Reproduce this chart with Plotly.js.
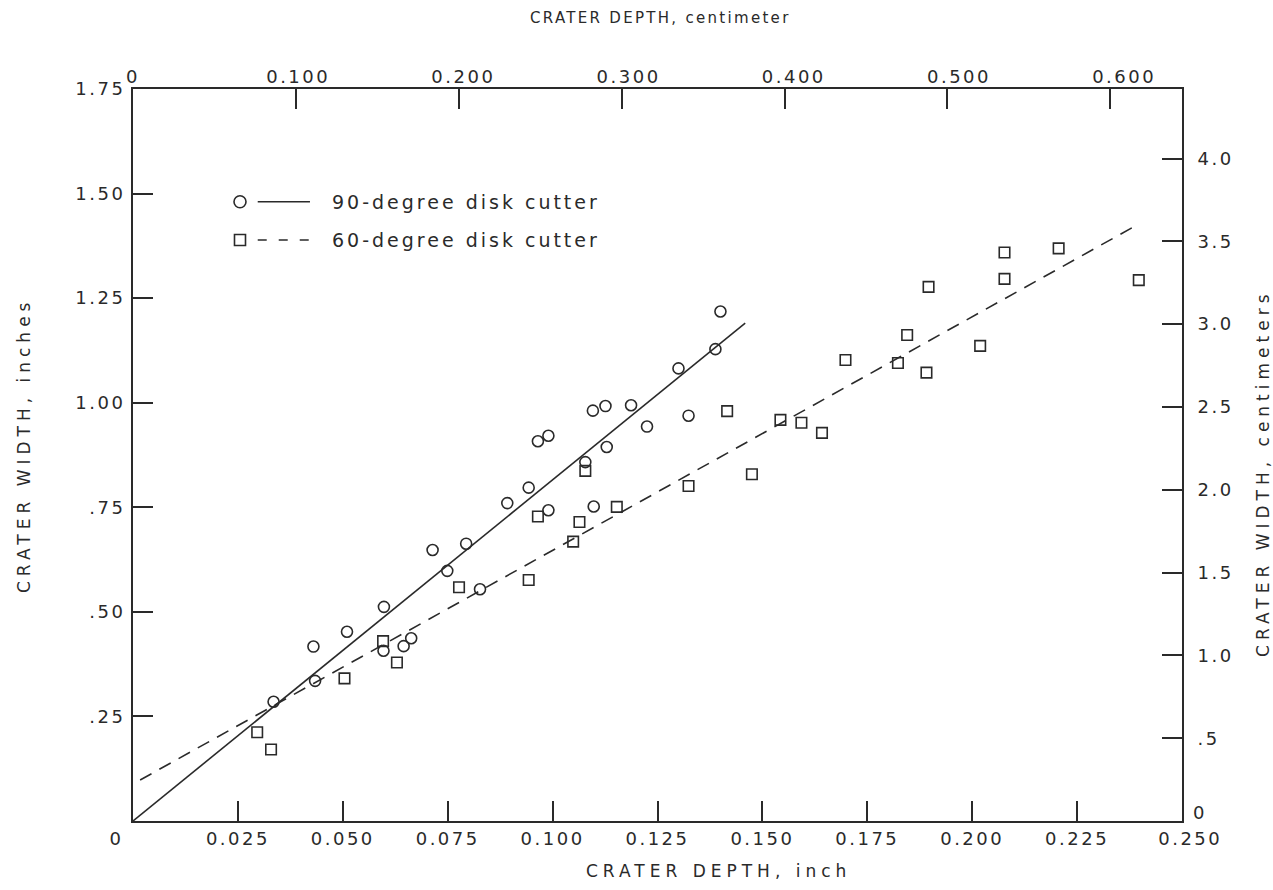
<!DOCTYPE html>
<html>
<head>
<meta charset="utf-8">
<script src="https://cdn.plot.ly/plotly-3.0.1.min.js"></script>
<style>
  html, body { margin: 0; padding: 0; background: #ffffff; }
  #chart { width: 1273px; height: 890px; }
</style>
</head>
<body>
<div id="chart"></div>
<script>
// ---- data (inches) ----
var depth90 = [0.0335, 0.0430, 0.0434, 0.0510, 0.0598, 0.0597, 0.0645, 0.0663, 0.0714, 0.0749,
               0.0794, 0.0827, 0.0892, 0.0943, 0.0965, 0.0990, 0.0990, 0.1078, 0.1096, 0.1098,
               0.1126, 0.1129, 0.1187, 0.1225, 0.1300, 0.1324, 0.1388, 0.1400];
var width90 = [0.285, 0.417, 0.335, 0.4525, 0.512, 0.407, 0.418, 0.437, 0.648, 0.598,
               0.663, 0.554, 0.760, 0.797, 0.908, 0.921, 0.743, 0.858, 0.981, 0.752,
               0.992, 0.894, 0.994, 0.943, 1.082, 0.969, 1.128, 1.218];

var depth60 = [0.0296, 0.0329, 0.0504, 0.0596, 0.0629, 0.0777, 0.0943, 0.0965, 0.1049, 0.1064,
               0.1078, 0.1153, 0.1324, 0.1416, 0.1475, 0.1543, 0.1593, 0.1642, 0.1698, 0.1823,
               0.1845, 0.1891, 0.1896, 0.2019, 0.2077, 0.2077, 0.2206, 0.2397];
var width60 = [0.212, 0.171, 0.341, 0.430, 0.379, 0.559, 0.576, 0.728, 0.668, 0.715,
               0.837, 0.751, 0.801, 0.980, 0.829, 0.959, 0.952, 0.928, 1.102, 1.095,
               1.162, 1.072, 1.277, 1.136, 1.359, 1.296, 1.369, 1.293];

// fitted lines (end points)
var fit90X = [0, 0.1459];
var fit90Y = [0, 1.190];
var fit60X = [0.0017, 0.2393];
var fit60Y = [0.098, 1.425];

// ---- tick values / labels ----
var xInchTicks = [0, 0.025, 0.05, 0.075, 0.1, 0.125, 0.15, 0.175, 0.2, 0.225, 0.25];
var xInchLabels = ['0\u00a0\u00a0\u00a0\u00a0', '0.025', '0.050', '0.075', '0.100', '0.125', '0.150', '0.175', '0.200', '0.225', '\u00a0\u00a00.250'];
var xCmTicks = [0, 0.1, 0.2, 0.3, 0.4, 0.5, 0.6];
var xCmLabels = ['0', '0.100', '0.200', '0.300', '0.400', '0.500', '0.600'];
var xCmTickMarks = [0.1, 0.2, 0.3, 0.4, 0.5, 0.6];
var yInchTicks = [0, 0.25, 0.5, 0.75, 1.0, 1.25, 1.5, 1.75];
var yInchLabels = ['', '.25', '.50', '.75', '1.00', '1.25', '1.50', '1.75'];
var yCmTicks = [0.5, 1.0, 1.5, 2.0, 2.5, 3.0, 3.5, 4.0];
var yCmLabels = ['.5', '1.0', '1.5', '2.0', '2.5', '3.0', '3.5', '4.0'];
var yCmZeroTick = [0];
var yCmZeroLabel = ['0'];

var legendNames = ['90-degree disk cutter', '60-degree disk cutter'];
var titles = {
  bottom: 'CRATER DEPTH, inch',
  top: 'CRATER DEPTH, centimeter',
  left: 'CRATER WIDTH, inches',
  right: 'CRATER WIDTH, centimeters'
};

// ---- styling helpers ----
var INK = '#2a2a2a';
var FONT = 'DejaVu Sans, Liberation Sans, sans-serif';
function sp(t, ls) { return '<span style="letter-spacing:' + ls + 'px">' + t + '</span>'; }
function spAll(arr, ls) { return arr.map(function (t) { return t === '' ? '' : sp(t, ls); }); }

var traces = [
  {
    x: depth90, y: width90, type: 'scatter', mode: 'markers', name: legendNames[0],
    marker: { symbol: 'circle-open', size: 11, color: INK, line: { width: 1.6, color: INK } },
    showlegend: false, hoverinfo: 'x+y'
  },
  {
    x: depth60, y: width60, type: 'scatter', mode: 'markers', name: legendNames[1],
    marker: { symbol: 'square-open', size: 10.5, color: INK, line: { width: 1.6, color: INK } },
    showlegend: false, hoverinfo: 'x+y'
  },
  {
    x: fit90X, y: fit90Y, type: 'scatter', mode: 'lines', name: legendNames[0] + ' fit',
    line: { color: INK, width: 1.6 }, showlegend: false, hoverinfo: 'skip'
  },
  {
    x: fit60X, y: fit60Y, type: 'scatter', mode: 'lines', name: legendNames[1] + ' fit',
    line: { color: INK, width: 1.6, dash: '13px,9px' }, showlegend: false, hoverinfo: 'skip'
  },
  // empty traces so the secondary (centimeter) axes are registered
  { x: [], y: [], xaxis: 'x2', yaxis: 'y2', type: 'scatter', mode: 'markers', showlegend: false, hoverinfo: 'skip' },
  { x: [], y: [], xaxis: 'x3', yaxis: 'y3', type: 'scatter', mode: 'markers', showlegend: false, hoverinfo: 'skip' }
];

var tickFont = { family: FONT, size: 18, color: INK };
var axisCommon = {
  showgrid: false, zeroline: false, showline: true, linecolor: INK, linewidth: 2,
  ticks: 'inside', ticklen: 20, tickwidth: 2, tickcolor: INK, tickfont: tickFont,
  tickmode: 'array', fixedrange: true
};

var layout = {
  width: 1273, height: 890, autosize: false,
  paper_bgcolor: '#ffffff', plot_bgcolor: '#ffffff',
  margin: { l: 133, r: 91, t: 89, b: 69, pad: 0 },
  showlegend: false,
  xaxis: Object.assign({}, axisCommon, {
    range: [0, 0.25], tickvals: xInchTicks, ticktext: spAll(xInchLabels, 2.5),
    anchor: 'y', side: 'bottom', ticklabelstandoff: 0
  }),
  // top centimeter labels (no tick marks)
  xaxis2: Object.assign({}, axisCommon, {
    range: [0, 0.635], tickvals: xCmTicks, ticktext: spAll(xCmLabels, 2.5),
    overlaying: 'x', side: 'top', anchor: 'y', ticks: '', showline: false, ticklabelstandoff: 1
  }),
  // top tick marks and frame line as drawn on the original
  xaxis3: Object.assign({}, axisCommon, {
    range: [0, 0.644], tickvals: xCmTickMarks, showticklabels: false,
    overlaying: 'x', side: 'top', anchor: 'y'
  }),
  yaxis: Object.assign({}, axisCommon, {
    range: [0, 1.75], tickvals: yInchTicks, ticktext: spAll(yInchLabels, 2.5),
    anchor: 'x', side: 'left', ticklabelstandoff: 2
  }),
  yaxis2: Object.assign({}, axisCommon, {
    range: [0, 4.42], tickvals: yCmTicks, ticktext: spAll(yCmLabels, 2.5),
    overlaying: 'y', side: 'right', anchor: 'x2', ticklabelstandoff: 10
  }),
  // the "0" of the centimeter scale sits slightly above the corner on the original
  yaxis3: Object.assign({}, axisCommon, {
    range: [-0.05, 4.37], tickvals: yCmZeroTick, ticktext: spAll(yCmZeroLabel, 2.5),
    overlaying: 'y', side: 'right', anchor: 'x3', ticks: '', showline: false, ticklabelstandoff: 10
  }),
  shapes: [
    // legend glyphs
    { type: 'circle', xref: 'paper', yref: 'paper', xsizemode: 'pixel', ysizemode: 'pixel',
      xanchor: 0.102, yanchor: 0.846, x0: -6, x1: 6, y0: -6, y1: 6,
      line: { color: INK, width: 1.6 }, fillcolor: 'rgba(0,0,0,0)' },
    { type: 'line', xref: 'paper', yref: 'paper', x0: 0.1189, x1: 0.1687, y0: 0.846, y1: 0.846,
      line: { color: INK, width: 1.6 } },
    { type: 'rect', xref: 'paper', yref: 'paper', xsizemode: 'pixel', ysizemode: 'pixel',
      xanchor: 0.102, yanchor: 0.7937, x0: -5.5, x1: 5.5, y0: -5.5, y1: 5.5,
      line: { color: INK, width: 1.6 }, fillcolor: 'rgba(0,0,0,0)' },
    { type: 'line', xref: 'paper', yref: 'paper', x0: 0.1189, x1: 0.1687, y0: 0.7937, y1: 0.7937,
      line: { color: INK, width: 1.6, dash: '9px,12px' } }
  ],
  annotations: [
    { text: sp(legendNames[0], 3), xref: 'paper', yref: 'paper', x: 0.1878, y: 0.846,
      xanchor: 'left', yanchor: 'middle', showarrow: false, font: { family: FONT, size: 19, color: INK } },
    { text: sp(legendNames[1], 3), xref: 'paper', yref: 'paper', x: 0.1878, y: 0.7937,
      xanchor: 'left', yanchor: 'middle', showarrow: false, font: { family: FONT, size: 19, color: INK } },
    { text: sp(titles.bottom, 5), xref: 'paper', yref: 'paper', x: 0.5586, y: -0.0683,
      xanchor: 'center', yanchor: 'middle', showarrow: false, font: { family: FONT, size: 17, color: INK } },
    { text: sp(titles.top, 2.3), xref: 'paper', yref: 'paper', x: 0.5024, y: 1.097,
      xanchor: 'center', yanchor: 'middle', showarrow: false, font: { family: FONT, size: 15, color: INK } },
    { text: sp(titles.left, 5), xref: 'paper', yref: 'paper', x: -0.1039, y: 0.5123, textangle: -90,
      xanchor: 'center', yanchor: 'middle', showarrow: false, font: { family: FONT, size: 17, color: INK } },
    { text: sp(titles.right, 5), xref: 'paper', yref: 'paper', x: 1.0772, y: 0.4754, textangle: -90,
      xanchor: 'center', yanchor: 'middle', showarrow: false, font: { family: FONT, size: 17, color: INK } }
  ]
};

Plotly.newPlot('chart', traces, layout, { displayModeBar: false, staticPlot: true });
</script>
</body>
</html>
